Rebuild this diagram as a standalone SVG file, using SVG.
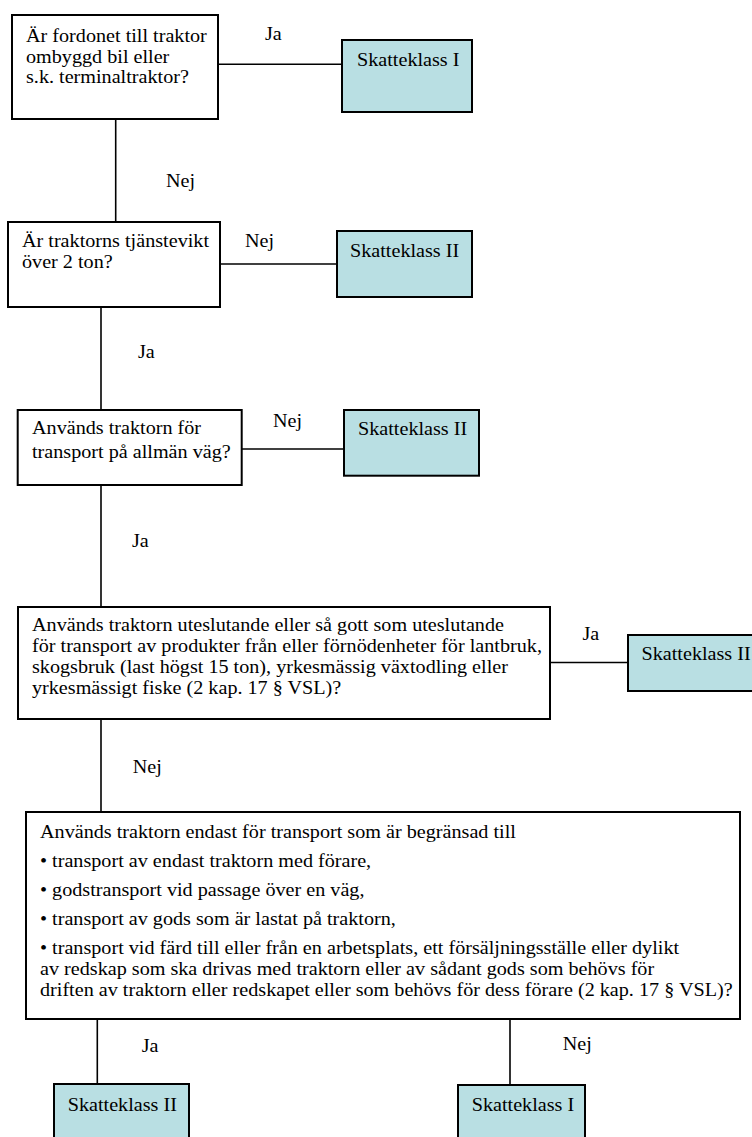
<svg xmlns="http://www.w3.org/2000/svg" width="752" height="1137" viewBox="0 0 752 1137">
<style>
.box{fill:#ffffff;stroke:#000;stroke-width:2}
.res{fill:#b9dfe3;stroke:#000;stroke-width:2}
.con{stroke:#000;stroke-width:1.6;fill:none}
</style>
<rect width="752" height="1137" fill="#ffffff"/>
<g font-family="'Liberation Serif', 'Times New Roman', serif" font-size="18" fill="#000">
<g id="connectors">
<line class="con" x1="218" y1="64.3" x2="342" y2="64.3"/>
<line class="con" x1="115.7" y1="119" x2="115.7" y2="222"/>
<line class="con" x1="220" y1="264" x2="337" y2="264"/>
<line class="con" x1="101" y1="307" x2="101" y2="410"/>
<line class="con" x1="242" y1="449" x2="344" y2="449"/>
<line class="con" x1="101" y1="485" x2="101" y2="607"/>
<line class="con" x1="550" y1="662.5" x2="628" y2="662.5"/>
<line class="con" x1="101" y1="719" x2="101" y2="812"/>
<line class="con" x1="97.3" y1="1019" x2="97.3" y2="1084"/>
<line class="con" x1="510" y1="1019" x2="510" y2="1085"/>
<text transform="matrix(1.12 0 0 1 265 40)">Ja</text>
<text transform="matrix(1.12 0 0 1 166 187)">Nej</text>
<text transform="matrix(1.12 0 0 1 245 246.7)">Nej</text>
<text transform="matrix(1.12 0 0 1 138 358)">Ja</text>
<text transform="matrix(1.12 0 0 1 273 426.5)">Nej</text>
<text transform="matrix(1.12 0 0 1 132 546.7)">Ja</text>
<text transform="matrix(1.12 0 0 1 582.5 640)">Ja</text>
<text transform="matrix(1.12 0 0 1 132.7 773)">Nej</text>
<text transform="matrix(1.12 0 0 1 141.7 1052)">Ja</text>
<text transform="matrix(1.12 0 0 1 562.7 1050)">Nej</text>
</g>
<g id="q1">
<rect class="box" x="12" y="15" width="206" height="104"/>
<text transform="matrix(1.12 0 0 1 26 41.7)">Är fordonet till traktor</text>
<text transform="matrix(1.12 0 0 1 26 62.5)">ombyggd bil eller</text>
<text transform="matrix(1.12 0 0 1 26 83.3)">s.k. terminaltraktor?</text>
</g>
<g id="r1">
<rect class="res" x="342" y="40" width="130" height="72"/>
<text transform="matrix(1.12 0 0 1 357 66)">Skatteklass I</text>
</g>
<g id="q2">
<rect class="box" x="8" y="222" width="212" height="85"/>
<text transform="matrix(1.12 0 0 1 22 246.7)">Är traktorns tjänstevikt</text>
<text transform="matrix(1.12 0 0 1 22 268)">över 2 ton?</text>
</g>
<g id="r2">
<rect class="res" x="337" y="231" width="135" height="66"/>
<text transform="matrix(1.12 0 0 1 350 256.7)">Skatteklass II</text>
</g>
<g id="q3">
<rect class="box" x="17.7" y="410" width="224" height="75"/>
<text transform="matrix(1.12 0 0 1 32 434)">Används traktorn för</text>
<text transform="matrix(1.12 0 0 1 32 458)">transport på allmän väg?</text>
</g>
<g id="r3">
<rect class="res" x="344" y="410" width="135" height="65.7"/>
<text transform="matrix(1.12 0 0 1 358 435)">Skatteklass II</text>
</g>
<g id="q4">
<rect class="box" x="18" y="607" width="532" height="112"/>
<text transform="matrix(1.12 0 0 1 32 631)">Används traktorn uteslutande eller så gott som uteslutande</text>
<text transform="matrix(1.12 0 0 1 32 652)">för transport av produkter från eller förnödenheter för lantbruk,</text>
<text transform="matrix(1.12 0 0 1 32 673)">skogsbruk (last högst 15 ton), yrkesmässig växtodling eller</text>
<text transform="matrix(1.12 0 0 1 32 694)">yrkesmässigt fiske (2 kap. 17 § VSL)?</text>
</g>
<g id="r4">
<rect class="res" x="628" y="635" width="135" height="56"/>
<text transform="matrix(1.12 0 0 1 641.5 660)">Skatteklass II</text>
</g>
<g id="q5">
<rect class="box" x="26" y="812" width="714" height="207"/>
<text transform="matrix(1.12 0 0 1 40 838)">Används traktorn endast för transport som är begränsad till</text>
<text transform="matrix(1.12 0 0 1 40 867)">• transport av endast traktorn med förare,</text>
<text transform="matrix(1.12 0 0 1 40 896)">• godstransport vid passage över en väg,</text>
<text transform="matrix(1.12 0 0 1 40 925)">• transport av gods som är lastat på traktorn,</text>
<text transform="matrix(1.12 0 0 1 40 954)">• transport vid färd till eller från en arbetsplats, ett försäljningsställe eller dylikt</text>
<text transform="matrix(1.12 0 0 1 40 975)">av redskap som ska drivas med traktorn eller av sådant gods som behövs för</text>
<text transform="matrix(1.12 0 0 1 40 996)">driften av traktorn eller redskapet eller som behövs för dess förare (2 kap. 17 § VSL)?</text>
</g>
<g id="r5">
<rect class="res" x="54" y="1084" width="135" height="70"/>
<text transform="matrix(1.12 0 0 1 67.7 1111)">Skatteklass II</text>
</g>
<g id="r6">
<rect class="res" x="458" y="1085" width="127" height="70"/>
<text transform="matrix(1.12 0 0 1 471.7 1111)">Skatteklass I</text>
</g>
</g>
</svg>
